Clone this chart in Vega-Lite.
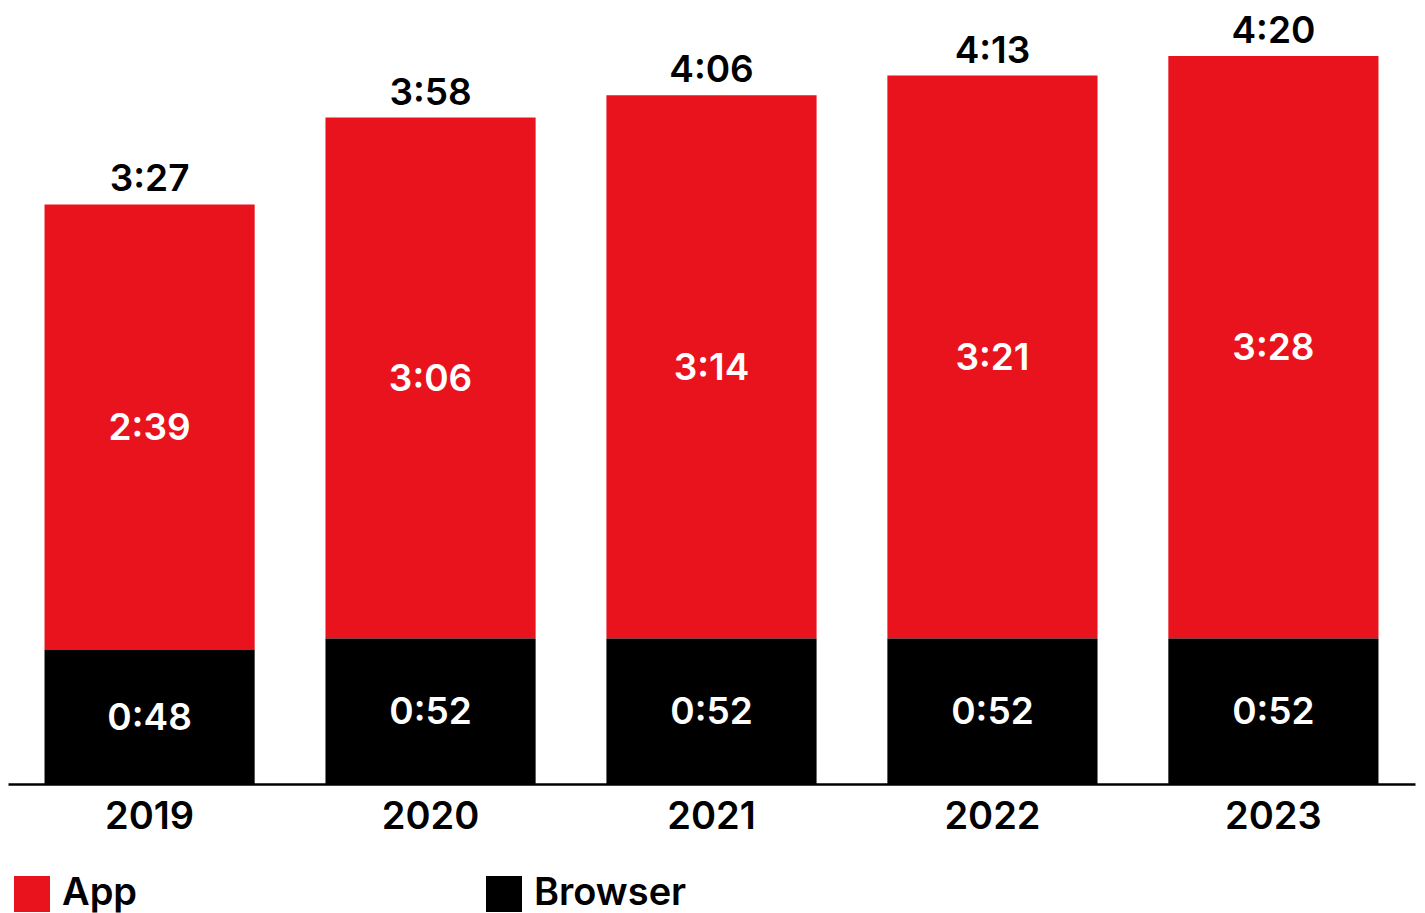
{
  "$schema": "https://vega.github.io/schema/vega-lite/v6.json",
  "width": 1407,
  "height": 784,
  "autosize": {"type": "none"},
  "padding": {"left": 8, "top": 0, "right": 10, "bottom": 129},
  "background": "white",
  "config": {
    "view": {"stroke": null},
    "font": "Inter",
    "text": {"font": "Inter"}
  },
  "datasets": {
    "segments": [
      {"year": "2019", "type": "App", "minutes": 159, "label": "2:39", "order": 2},
      {"year": "2019", "type": "Browser", "minutes": 48, "label": "0:48", "order": 1},
      {"year": "2020", "type": "App", "minutes": 186, "label": "3:06", "order": 2},
      {"year": "2020", "type": "Browser", "minutes": 52, "label": "0:52", "order": 1},
      {"year": "2021", "type": "App", "minutes": 194, "label": "3:14", "order": 2},
      {"year": "2021", "type": "Browser", "minutes": 52, "label": "0:52", "order": 1},
      {"year": "2022", "type": "App", "minutes": 201, "label": "3:21", "order": 2},
      {"year": "2022", "type": "Browser", "minutes": 52, "label": "0:52", "order": 1},
      {"year": "2023", "type": "App", "minutes": 208, "label": "3:28", "order": 2},
      {"year": "2023", "type": "Browser", "minutes": 52, "label": "0:52", "order": 1}
    ],
    "totals": [
      {"year": "2019", "total": 207, "label": "3:27"},
      {"year": "2020", "total": 238, "label": "3:58"},
      {"year": "2021", "total": 246, "label": "4:06"},
      {"year": "2022", "total": 253, "label": "4:13"},
      {"year": "2023", "total": 260, "label": "4:20"}
    ]
  },
  "layer": [
    {
      "data": {"name": "segments"},
      "mark": {"type": "bar"},
      "encoding": {
        "x": {
          "field": "year", "type": "nominal",
          "scale": {"paddingInner": 0.252, "paddingOuter": 0.13},
          "axis": {
            "title": null, "labelAngle": 0, "ticks": false,
            "domainColor": "black", "domainWidth": 2.5,
            "labelFont": "Inter", "labelFontWeight": 600, "labelFontSize": 38,
            "labelColor": "black", "labelPadding": 14
          }
        },
        "y": {
          "field": "minutes", "type": "quantitative", "stack": "zero",
          "scale": {"domain": [0, 280], "nice": false},
          "axis": null
        },
        "color": {
          "field": "type", "type": "nominal",
          "scale": {"domain": ["App", "Browser"], "range": ["#E9131D", "#000000"]},
          "legend": {
            "title": null, "orient": "none", "direction": "horizontal",
            "legendX": 5, "legendY": 875,
            "symbolType": "square", "symbolSize": 1296, "symbolStrokeWidth": 0,
            "symbolOpacity": 1,
            "labelFont": "Inter", "labelFontWeight": 600, "labelFontSize": 38,
            "labelColor": "black", "labelOffset": 11, "columnPadding": 347,
            "labelLimit": 400
          }
        },
        "order": {"field": "order", "type": "quantitative", "sort": "ascending"}
      }
    },
    {
      "data": {"name": "segments"},
      "transform": [
        {"stack": "minutes", "groupby": ["year"], "sort": [{"field": "order", "order": "ascending"}], "as": ["y0", "y1"]},
        {"calculate": "(datum.y0 + datum.y1) / 2", "as": "mid"}
      ],
      "mark": {"type": "text", "color": "white", "fontSize": 37, "fontWeight": 600, "font": "Inter", "baseline": "middle", "align": "center", "dy": 2},
      "encoding": {
        "x": {"field": "year", "type": "nominal"},
        "y": {"field": "mid", "type": "quantitative"},
        "text": {"field": "label"}
      }
    },
    {
      "data": {"name": "totals"},
      "mark": {"type": "text", "color": "black", "fontSize": 37, "fontWeight": 600, "font": "Inter", "baseline": "alphabetic", "align": "center", "dy": -13},
      "encoding": {
        "x": {"field": "year", "type": "nominal"},
        "y": {"field": "total", "type": "quantitative"},
        "text": {"field": "label"}
      }
    }
  ]
}
